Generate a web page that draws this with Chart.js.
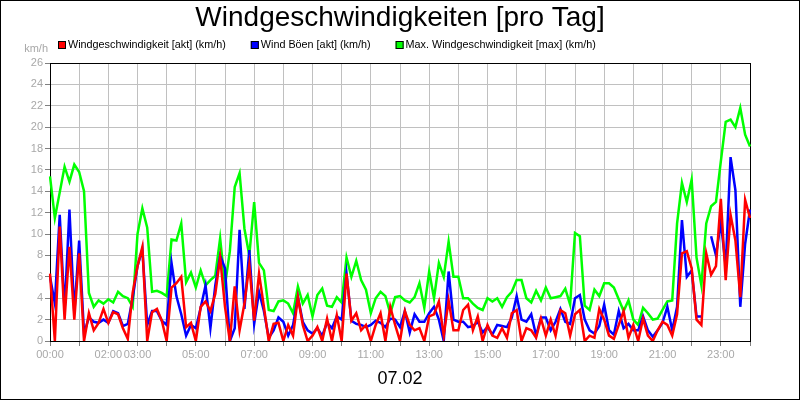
<!DOCTYPE html>
<html>
<head>
<meta charset="utf-8">
<script src="https://cdn.jsdelivr.net/npm/chart.js@4.4.1/dist/chart.umd.min.js"></script>
<style>
  body { margin: 0; background: #fff; }
  #frame { width: 800px; height: 400px; box-sizing: border-box; border: 1px solid #000; background: #fff; }
  canvas { display: block; }
</style>
</head>
<body>
<div id="frame"><canvas id="windChart" width="798" height="398"></canvas></div>
<script>
// 10-minute readings for 07.02
const times = [];
for (let m = 0; m <= 24 * 60; m += 10) {
  const h = String(Math.floor(m / 60)).padStart(2, "0");
  const mm = String(m % 60).padStart(2, "0");
  times.push(h + ":" + mm);
}

const shownTicks = ["00:00", "02:00", "03:00", "05:00", "07:00", "09:00", "11:00",
  "13:00", "15:00", "17:00", "19:00", "21:00", "23:00"];

const windAkt = [
  6.3, 0, 10.7, 2.0, 8.8, 2.0, 8.2, 0, 2.6, 1.0,
  1.7, 3.0, 1.7, 2.7, 2.5, 1.2, 0.2, 4.5, 7.0, 8.8,
  0, 2.7, 3.0, 1.9, 0, 5.0, 5.4, 6.0, 1.3, 1.7,
  0, 3.2, 3.7, 2.8, 4.4, 7.8, 3.2, 0, 5.1, 1.0,
  3.5, 7.1, 1.9, 6.3, 3.2, 0, 1.6, 1.7, 0, 1.5,
  0.5, 4.1, 1.5, 0, 0.5, 1.3, 0, 2.1, 0, 2.4,
  0, 6.3, 1.9, 2.6, 1.0, 1.5, 0, 1.5, 2.6, 0,
  3.2, 1.5, 0, 2.8, 1.5, 1.0, 1.2, 0, 2.3, 2.5,
  3.7, 0.5, 3.8, 1.0, 1.0, 2.9, 3.4, 1.0, 2.3, 0,
  1.5, 0.5, 0.3, 1.2, 0.3, 2.6, 2.9, 0, 1.2, 1.0,
  0.3, 2.1, 0.5, 2.0, 0.5, 2.9, 2.6, 0.5, 2.5, 2.9,
  0, 0.5, 0.3, 3.0, 2.0, 0.5, 0.2, 1.5, 2.8, 0.3,
  1.5, 0, 2.1, 0.5, 0, 1.0, 1.8, 1.5, 0.5, 2.5,
  8.2, 8.4, 6.8, 2.0, 1.5, 8.2, 6.2, 7.0, 13.3, 5.7,
  11.8, 9.4, 4.1, 13.2, 11.5
];

const windBoeen = [
  6.0, 3.5, 11.8, 2.8, 12.3, 2.6, 9.4, 0.7, 2.2, 1.8,
  1.7, 2.0, 1.7, 2.8, 2.6, 1.4, 1.6, 4.0, 7.0, 8.6,
  1.5, 2.8, 2.8, 1.9, 1.5, 7.3, 4.2, 2.5, 0.5, 1.5,
  1.2, 3.1, 5.2, 1.2, 5.2, 8.0, 6.8, 0, 1.2, 10.4,
  3.0, 8.5, 1.6, 4.6, 2.8, 0.3, 1.0, 2.2, 1.8, 0.5,
  1.5, 4.1, 1.8, 1.0, 0.7, 1.2, 0.5, 1.7, 1.2, 2.3,
  2.0, 6.3, 1.9, 1.6, 1.5, 1.3, 1.5, 1.9, 1.7, 1.3,
  2.1, 2.0, 1.3, 2.8, 0.8, 2.5, 1.8, 1.8, 2.6, 3.2,
  2.0, 0, 6.5, 2.0, 1.8, 1.8, 1.3, 1.4, 1.8, 0.8,
  1.3, 0.6, 1.5, 1.4, 1.3, 2.2, 4.2, 2.0, 1.8, 2.5,
  0.5, 2.2, 2.2, 1.0, 1.8, 3.0, 1.8, 1.6, 4.0, 4.3,
  2.0, 1.0, 0.7, 1.4, 3.4, 1.0, 0.6, 2.8, 1.2, 1.6,
  1.0, 1.0, 2.3, 1.0, 0.4, 1.0, 1.7, 3.2, 1.0, 3.2,
  11.3, 6.0, 6.6, 2.3, 2.3, null, 9.8, 8.0, 11.1, 7.0,
  17.2, 14.1, 3.2, 9.1, 12.3
];

const windMax = [
  15.4, 11.5, 13.9, 16.3, 14.9, 16.5, 15.8, 14.0, 4.5, 3.2,
  3.8, 3.5, 3.9, 3.6, 4.6, 4.2, 4.0, 3.2, 10.0, 12.4,
  10.6, 4.6, 4.7, 4.5, 4.2, 9.5, 9.4, 11.0, 5.5, 6.4,
  5.0, 6.6, 5.2, 5.7, 6.1, 9.6, 5.2, 8.4, 14.4, 15.7,
  10.5, 8.0, 13.0, 7.3, 6.6, 2.9, 2.8, 3.7, 3.8, 3.5,
  2.6, 5.1, 3.5, 4.3, 2.3, 4.3, 4.9, 3.3, 3.2, 4.1,
  3.6, 7.8, 6.0, 7.5, 5.7, 4.8, 2.6, 4.0, 4.6, 4.2,
  2.6, 4.1, 4.2, 3.8, 3.6, 4.1, 5.4, 3.1, 6.5, 4.0,
  7.3, 6.0, 9.3, 6.0, 6.0, 4.0, 4.0, 3.5, 3.1, 2.9,
  4.0, 3.7, 4.0, 3.2, 4.1, 4.6, 5.7, 5.7, 4.0, 3.6,
  4.7, 3.8, 5.0, 4.0, 4.1, 4.2, 4.9, 3.4, 10.1, 9.8,
  3.3, 2.9, 4.8, 4.2, 5.4, 5.4, 5.0, 3.9, 2.8, 3.8,
  2.0, 1.5, 3.1, 2.6, 2.0, 2.1, 2.9, 3.7, 3.8, 11.0,
  14.8, 13.0, 15.1, 7.8, 5.2, 11.0, 12.6, 13.0, 16.8, 20.5,
  20.7, 20.0, 21.8, 19.3, 18.2
];

const FONT = "'Liberation Sans', Arial, sans-serif";
Chart.defaults.font.family = FONT;

// frame around the plot area
const plotFrame = {
  id: "plotFrame",
  beforeDatasetsDraw(chart) {
    const { ctx, chartArea: a } = chart;
    ctx.save();
    ctx.strokeStyle = "#000";
    ctx.lineWidth = 1;
    ctx.strokeRect(Math.round(a.left) + 0.5, Math.round(a.top) + 0.5,
      Math.round(a.right - a.left), Math.round(a.bottom - a.top));
    ctx.restore();
  }
};

// legend row + unit label, drawn like the original image
const topTexts = {
  id: "topTexts",
  afterDraw(chart) {
    const ctx = chart.ctx;
    ctx.save();
    ctx.font = "10.8px " + FONT;
    ctx.textBaseline = "middle";
    ctx.textAlign = "left";
    let x = 57;
    const y = 44;
    chart.data.datasets.forEach(ds => {
      ctx.fillStyle = ds.borderColor;
      ctx.fillRect(x, y - 4, 8, 8);
      ctx.strokeStyle = "#000";
      ctx.lineWidth = 1;
      ctx.strokeRect(x + 0.5, y - 3.5, 7, 7);
      ctx.fillStyle = "#000";
      ctx.fillText(ds.label, x + 10, y);
      x += 10 + ctx.measureText(ds.label).width + 25;
    });
    ctx.fillStyle = "#a8a8a8";
    ctx.font = "11px " + FONT;
    ctx.textAlign = "right";
    ctx.fillText("km/h", 47, 48);
    ctx.restore();
  }
};

new Chart(document.getElementById("windChart"), {
  type: "line",
  data: {
    labels: times,
    datasets: [
      { label: "Windgeschwindigkeit [akt] (km/h)", data: windAkt, borderColor: "#ff0000", backgroundColor: "#ff0000" },
      { label: "Wind Böen [akt] (km/h)", data: windBoeen, borderColor: "#0000ff", backgroundColor: "#0000ff" },
      { label: "Max. Windgeschwindigkeit [max] (km/h)", data: windMax, borderColor: "#00ff00", backgroundColor: "#00ff00" }
    ]
  },
  options: {
    responsive: false,
    animation: false,
    devicePixelRatio: 1,
    elements: {
      line: { borderWidth: 2.5, tension: 0, fill: false },
      point: { radius: 0 }
    },
    plugins: {
      legend: { display: false },
      tooltip: { enabled: false },
      title: {
        display: true,
        text: "Windgeschwindigkeiten [pro Tag]",
        color: "#000",
        font: { size: 28, weight: "normal" },
        padding: { top: 0.7, bottom: 27.7 }
      }
    },
    scales: {
      x: {
        afterFit(scale) { scale.height = 58; },
        border: { color: "#000" },
        grid: {
          color: ctx => (ctx.index % 6 === 0 ? "#c0c0c0" : "rgba(0,0,0,0)"),
          tickColor: ctx => (ctx.index % 6 === 0 ? "#808080" : "rgba(0,0,0,0)"),
          tickLength: 5
        },
        ticks: {
          autoSkip: false,
          maxRotation: 0,
          minRotation: 0,
          color: "#a8a8a8",
          font: { size: 11 },
          padding: 2,
          callback: function (value) {
            const lbl = this.getLabelForValue(value);
            return shownTicks.includes(lbl) ? lbl : "";
          }
        },
        title: {
          display: true,
          text: "07.02",
          color: "#000",
          font: { size: 18 },
          padding: { top: 0, bottom: 9 }
        }
      },
      y: {
        min: 0,
        max: 26,
        afterFit(scale) { scale.width = 49; },
        border: { color: "#000" },
        grid: { color: "#c0c0c0", tickColor: "#808080", tickLength: 5 },
        ticks: { stepSize: 2, color: "#a8a8a8", font: { size: 11 }, padding: 2 }
      },
      // empty right-hand axis, only keeps the right margin so the title stays centred
      yRight: {
        position: "right",
        min: 0,
        max: 26,
        afterFit(scale) { scale.width = 49; },
        border: { display: false },
        grid: { display: false },
        ticks: { display: false }
      }
    }
  },
  plugins: [plotFrame, topTexts]
});
</script>
</body>
</html>
